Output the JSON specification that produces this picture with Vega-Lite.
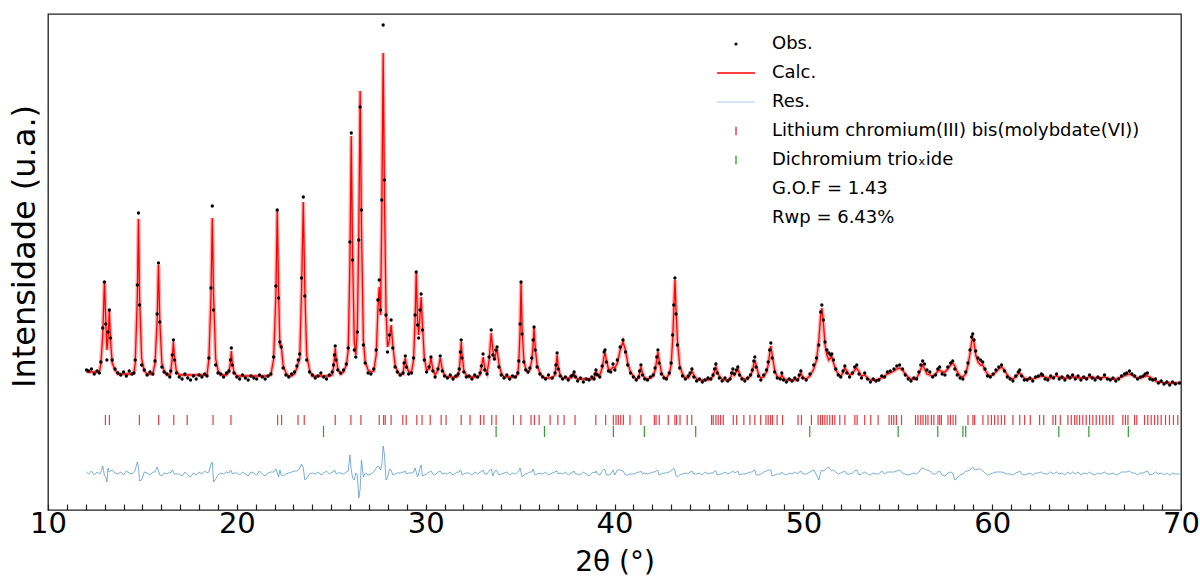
{
"$schema": "https://vega.github.io/schema/vega-lite/v6.json",
"width": 1133, "height": 496,
"autosize": "none",
"padding": {"left": 48, "top": 14, "right": 19, "bottom": 69},
"config": {"view": {"stroke": "#222", "strokeWidth": 1.3}, "font": "DejaVu Sans"},
"datasets": {
"p": [
{"x":12.04,"o":140,"c":138,"r":38},{"x":12.15,"o":139,"c":138,"r":36},{"x":12.3,"o":141,"c":138,"r":39},{"x":12.45,"o":136,"c":138,"r":35},{"x":12.6,"o":139,"c":138,"r":38},{"x":12.72,"o":137,"c":138,"r":36},{"x":12.8,"o":148,"c":146,"r":38},{"x":12.9,"o":182,"c":175,"r":44},{"x":12.99,"o":228,"c":229,"r":34},{"x":13.06,"o":186,"c":190,"r":33},{"x":13.12,"o":150,"c":160,"r":28},{"x":13.18,"o":178,"c":172,"r":42},{"x":13.25,"o":200,"c":199,"r":38},{"x":13.31,"o":172,"c":170,"r":39},{"x":13.4,"o":150,"c":147,"r":40},{"x":13.55,"o":141,"c":140,"r":37},{"x":13.7,"o":137,"c":136,"r":36},{"x":13.85,"o":135,"c":136,"r":38},{"x":14.0,"o":138,"c":136,"r":35},{"x":14.15,"o":134,"c":136,"r":39},{"x":14.3,"o":139,"c":136,"r":37},{"x":14.45,"o":136,"c":136,"r":36},{"x":14.55,"o":137,"c":137,"r":38},{"x":14.62,"o":150,"c":147,"r":40},{"x":14.73,"o":225,"c":213,"r":48},{"x":14.79,"o":297,"c":291,"r":43},{"x":14.85,"o":205,"c":213,"r":29},{"x":14.96,"o":145,"c":151,"r":30},{"x":15.1,"o":140,"c":139,"r":38},{"x":15.25,"o":135,"c":136,"r":37},{"x":15.4,"o":138,"c":136,"r":35},{"x":15.55,"o":136,"c":136,"r":38},{"x":15.67,"o":149,"c":147,"r":38},{"x":15.78,"o":196,"c":190,"r":43},{"x":15.85,"o":247,"c":245,"r":39},{"x":15.92,"o":188,"c":190,"r":35},{"x":16.03,"o":143,"c":147,"r":34},{"x":16.15,"o":138,"c":139,"r":37},{"x":16.3,"o":136,"c":135,"r":36},{"x":16.45,"o":133,"c":135,"r":38},{"x":16.5,"o":139,"c":138,"r":37},{"x":16.58,"o":155,"c":152,"r":40},{"x":16.64,"o":170,"c":168,"r":38},{"x":16.7,"o":150,"c":152,"r":36},{"x":16.8,"o":137,"c":139,"r":36},{"x":16.95,"o":133,"c":135,"r":36},{"x":17.1,"o":131,"c":135,"r":34},{"x":17.25,"o":136,"c":135,"r":38},{"x":17.4,"o":132,"c":135,"r":35},{"x":17.55,"o":130,"c":135,"r":33},{"x":17.7,"o":134,"c":135,"r":37},{"x":17.85,"o":131,"c":135,"r":35},{"x":18.0,"o":135,"c":135,"r":38},{"x":18.15,"o":133,"c":135,"r":36},{"x":18.3,"o":136,"c":135,"r":39},{"x":18.42,"o":134,"c":135,"r":37},{"x":18.52,"o":152,"c":151,"r":38},{"x":18.63,"o":222,"c":213,"r":46},{"x":18.7,"o":304,"c":292,"r":48},{"x":18.77,"o":200,"c":213,"r":28},{"x":18.88,"o":145,"c":151,"r":31},{"x":19.0,"o":137,"c":140,"r":35},{"x":19.15,"o":136,"c":135,"r":37},{"x":19.3,"o":133,"c":135,"r":36},{"x":19.45,"o":137,"c":135,"r":38},{"x":19.58,"o":139,"c":138,"r":37},{"x":19.66,"o":150,"c":147,"r":40},{"x":19.71,"o":162,"c":159,"r":39},{"x":19.76,"o":145,"c":147,"r":36},{"x":19.85,"o":137,"c":138,"r":37},
{"x":20.0,"o":133,"c":134,"r":37},{"x":20.15,"o":131,"c":134,"r":35},{"x":20.3,"o":135,"c":134,"r":38},{"x":20.45,"o":132,"c":134,"r":36},{"x":20.6,"o":130,"c":134,"r":34},{"x":20.75,"o":134,"c":134,"r":38},{"x":20.9,"o":132,"c":134,"r":37},{"x":21.05,"o":131,"c":134,"r":35},{"x":21.2,"o":135,"c":134,"r":39},{"x":21.35,"o":133,"c":134,"r":36},{"x":21.5,"o":131,"c":134,"r":34},{"x":21.65,"o":134,"c":134,"r":37},{"x":21.8,"o":136,"c":135,"r":38},{"x":21.95,"o":153,"c":151,"r":38},{"x":22.07,"o":224,"c":217,"r":41},{"x":22.14,"o":300,"c":300,"r":37},{"x":22.21,"o":212,"c":218,"r":33},{"x":22.28,"o":168,"c":165,"r":40},{"x":22.35,"o":163,"c":165,"r":35},{"x":22.45,"o":142,"c":145,"r":34},{"x":22.6,"o":135,"c":137,"r":36},{"x":22.75,"o":133,"c":134,"r":37},{"x":22.9,"o":136,"c":134,"r":38},{"x":23.05,"o":138,"c":136,"r":39},{"x":23.18,"o":144,"c":142,"r":39},{"x":23.25,"o":150,"c":147,"r":40},{"x":23.33,"o":156,"c":151,"r":42},{"x":23.43,"o":232,"c":221,"r":46},{"x":23.52,"o":313,"c":308,"r":42},{"x":23.6,"o":214,"c":221,"r":30},{"x":23.7,"o":150,"c":155,"r":32},{"x":23.85,"o":138,"c":140,"r":36},{"x":24.0,"o":135,"c":134,"r":37},{"x":24.15,"o":132,"c":134,"r":36},{"x":24.3,"o":134,"c":134,"r":38},{"x":24.45,"o":137,"c":134,"r":35},{"x":24.6,"o":133,"c":134,"r":37},{"x":24.75,"o":131,"c":134,"r":39},{"x":24.9,"o":135,"c":134,"r":36},{"x":25.05,"o":138,"c":135,"r":38},{"x":25.12,"o":145,"c":143,"r":38},{"x":25.17,"o":155,"c":152,"r":40},{"x":25.21,"o":164,"c":162,"r":39},{"x":25.26,"o":150,"c":152,"r":36},{"x":25.35,"o":140,"c":141,"r":37},{"x":25.5,"o":137,"c":136,"r":37},{"x":25.65,"o":140,"c":138,"r":36},{"x":25.8,"o":146,"c":145,"r":38},{"x":25.9,"o":162,"c":160,"r":39},{"x":25.99,"o":268,"c":250,"r":55},{"x":26.06,"o":377,"c":374,"r":40},{"x":26.13,"o":250,"c":255,"r":32},{"x":26.22,"o":160,"c":168,"r":30},{"x":26.3,"o":153,"c":155,"r":37},{"x":26.38,"o":178,"c":180,"r":35},{"x":26.46,"o":270,"c":280,"r":12},{"x":26.53,"o":403,"c":419,"r":21},{"x":26.6,"o":300,"c":285,"r":50},{"x":26.7,"o":165,"c":170,"r":33},{"x":26.8,"o":147,"c":148,"r":37},{"x":26.95,"o":137,"c":140,"r":35},{"x":27.1,"o":136,"c":138,"r":36},{"x":27.25,"o":141,"c":139,"r":38},{"x":27.38,"o":160,"c":155,"r":42},{"x":27.47,"o":210,"c":200,"r":44},{"x":27.54,"o":230,"c":223,"r":43},{"x":27.61,"o":200,"c":195,"r":40},{"x":27.68,"o":310,"c":300,"r":45},{"x":27.75,"o":485,"c":457,"r":64},{"x":27.82,"o":330,"c":310,"r":55},{"x":27.9,"o":195,"c":200,"r":30},{"x":27.98,"o":158,"c":163,"r":32},{"x":28.08,"o":175,"c":170,"r":41},{"x":28.17,"o":190,"c":185,"r":40},{"x":28.26,"o":162,"c":165,"r":35},{"x":28.38,"o":143,"c":145,"r":36},{"x":28.5,"o":138,"c":139,"r":37},{"x":28.65,"o":135,"c":135,"r":37},{"x":28.8,"o":137,"c":136,"r":38},{"x":28.86,"o":147,"c":145,"r":38},{"x":28.92,"o":154,"c":152,"r":39},{"x":28.98,"o":143,"c":145,"r":36},{"x":29.1,"o":136,"c":138,"r":37},{"x":29.25,"o":137,"c":138,"r":37},{"x":29.36,"o":152,"c":150,"r":38},{"x":29.44,"o":195,"c":190,"r":42},{"x":29.5,"o":238,"c":237,"r":38},{"x":29.57,"o":185,"c":190,"r":33},{"x":29.63,"o":172,"c":175,"r":36},{"x":29.7,"o":200,"c":195,"r":42},{"x":29.76,"o":216,"c":213,"r":45},{"x":29.83,"o":180,"c":185,"r":34},{"x":29.93,"o":150,"c":152,"r":35},
{"x":30.05,"o":138,"c":140,"r":36},{"x":30.18,"o":143,"c":141,"r":38},{"x":30.28,"o":153,"c":152,"r":39},{"x":30.38,"o":139,"c":141,"r":36},{"x":30.5,"o":133,"c":135,"r":35},{"x":30.65,"o":141,"c":140,"r":38},{"x":30.77,"o":154,"c":152,"r":39},{"x":30.88,"o":139,"c":141,"r":36},{"x":31.0,"o":134,"c":135,"r":37},{"x":31.15,"o":132,"c":133,"r":36},{"x":31.3,"o":135,"c":133,"r":38},{"x":31.45,"o":131,"c":133,"r":35},{"x":31.6,"o":134,"c":133,"r":37},{"x":31.72,"o":136,"c":134,"r":38},{"x":31.78,"o":141,"c":140,"r":38},{"x":31.84,"o":158,"c":155,"r":40},{"x":31.88,"o":170,"c":168,"r":39},{"x":31.93,"o":152,"c":155,"r":35},{"x":32.02,"o":138,"c":140,"r":36},{"x":32.15,"o":133,"c":135,"r":37},{"x":32.3,"o":134,"c":133,"r":37},{"x":32.45,"o":131,"c":133,"r":35},{"x":32.6,"o":135,"c":133,"r":38},{"x":32.75,"o":133,"c":133,"r":36},{"x":32.88,"o":137,"c":135,"r":38},{"x":32.95,"o":144,"c":142,"r":38},{"x":33.04,"o":156,"c":153,"r":40},{"x":33.13,"o":140,"c":142,"r":36},{"x":33.25,"o":136,"c":137,"r":36},{"x":33.36,"o":153,"c":150,"r":39},{"x":33.47,"o":180,"c":177,"r":41},{"x":33.56,"o":155,"c":160,"r":34},{"x":33.64,"o":151,"c":150,"r":38},{"x":33.72,"o":160,"c":157,"r":40},{"x":33.78,"o":163,"c":161,"r":39},{"x":33.88,"o":143,"c":146,"r":35},{"x":34.0,"o":135,"c":137,"r":36},{"x":34.15,"o":132,"c":133,"r":37},{"x":34.3,"o":135,"c":133,"r":38},{"x":34.45,"o":131,"c":133,"r":35},{"x":34.6,"o":134,"c":133,"r":37},{"x":34.75,"o":133,"c":133,"r":36},{"x":34.88,"o":137,"c":136,"r":38},{"x":34.93,"o":149,"c":147,"r":39},{"x":35.0,"o":186,"c":180,"r":42},{"x":35.05,"o":228,"c":227,"r":38},{"x":35.11,"o":176,"c":180,"r":33},{"x":35.2,"o":148,"c":150,"r":35},{"x":35.3,"o":140,"c":141,"r":36},{"x":35.42,"o":138,"c":138,"r":37},{"x":35.52,"o":142,"c":140,"r":38},{"x":35.62,"o":152,"c":150,"r":38},{"x":35.69,"o":170,"c":165,"r":41},{"x":35.74,"o":183,"c":182,"r":38},{"x":35.8,"o":160,"c":163,"r":35},{"x":35.9,"o":143,"c":145,"r":36},{"x":36.05,"o":136,"c":137,"r":37},{"x":36.2,"o":133,"c":133,"r":36},{"x":36.35,"o":131,"c":132,"r":38},{"x":36.5,"o":135,"c":132,"r":35},{"x":36.7,"o":132,"c":132,"r":37},{"x":36.85,"o":137,"c":135,"r":38},{"x":36.9,"o":145,"c":143,"r":39},{"x":36.96,"o":157,"c":155,"r":39},{"x":37.02,"o":141,"c":143,"r":36},{"x":37.12,"o":134,"c":135,"r":37},{"x":37.25,"o":131,"c":132,"r":36},{"x":37.4,"o":133,"c":132,"r":38},{"x":37.55,"o":130,"c":132,"r":35},{"x":37.7,"o":134,"c":132,"r":37},{"x":37.8,"o":135,"c":134,"r":38},{"x":37.86,"o":138,"c":136,"r":39},{"x":37.93,"o":133,"c":134,"r":36},{"x":38.05,"o":129,"c":131,"r":36},{"x":38.2,"o":132,"c":131,"r":35},{"x":38.35,"o":128,"c":131,"r":38},{"x":38.5,"o":131,"c":131,"r":36},{"x":38.65,"o":130,"c":131,"r":34},{"x":38.8,"o":133,"c":131,"r":37},{"x":38.92,"o":131,"c":132,"r":38},{"x":38.97,"o":136,"c":135,"r":37},{"x":39.02,"o":140,"c":138,"r":39},{"x":39.1,"o":135,"c":136,"r":36},{"x":39.22,"o":133,"c":135,"r":35},{"x":39.35,"o":144,"c":142,"r":39},{"x":39.45,"o":158,"c":154,"r":41},{"x":39.5,"o":160,"c":157,"r":40},{"x":39.57,"o":148,"c":150,"r":35},{"x":39.68,"o":139,"c":141,"r":35},{"x":39.8,"o":138,"c":140,"r":36},{"x":39.92,"o":146,"c":143,"r":40},
{"x":40.02,"o":140,"c":142,"r":35},{"x":40.15,"o":150,"c":147,"r":40},{"x":40.3,"o":163,"c":160,"r":40},{"x":40.45,"o":170,"c":168,"r":39},{"x":40.58,"o":158,"c":160,"r":35},{"x":40.7,"o":145,"c":147,"r":35},{"x":40.85,"o":137,"c":138,"r":36},{"x":41.0,"o":133,"c":134,"r":36},{"x":41.15,"o":130,"c":131,"r":37},{"x":41.28,"o":133,"c":132,"r":38},{"x":41.33,"o":139,"c":137,"r":38},{"x":41.4,"o":145,"c":143,"r":39},{"x":41.48,"o":135,"c":137,"r":36},{"x":41.6,"o":131,"c":132,"r":37},{"x":41.75,"o":130,"c":131,"r":36},{"x":41.9,"o":133,"c":132,"r":37},{"x":42.05,"o":135,"c":134,"r":38},{"x":42.15,"o":142,"c":140,"r":38},{"x":42.24,"o":153,"c":150,"r":40},{"x":42.3,"o":160,"c":158,"r":39},{"x":42.36,"o":147,"c":150,"r":35},{"x":42.48,"o":136,"c":138,"r":36},{"x":42.62,"o":132,"c":133,"r":37},{"x":42.75,"o":131,"c":132,"r":37},{"x":42.9,"o":137,"c":136,"r":38},{"x":43.0,"o":147,"c":145,"r":39},{"x":43.08,"o":175,"c":170,"r":41},{"x":43.14,"o":205,"c":200,"r":42},{"x":43.2,"o":232,"c":230,"r":39},{"x":43.26,"o":196,"c":200,"r":34},{"x":43.33,"o":165,"c":170,"r":33},{"x":43.45,"o":142,"c":145,"r":35},{"x":43.6,"o":134,"c":136,"r":36},{"x":43.75,"o":131,"c":132,"r":37},{"x":43.9,"o":134,"c":132,"r":36},{"x":44.0,"o":137,"c":135,"r":38},{"x":44.1,"o":141,"c":139,"r":39},{"x":44.2,"o":133,"c":135,"r":36},{"x":44.35,"o":129,"c":131,"r":36},{"x":44.5,"o":131,"c":130,"r":37},{"x":44.65,"o":128,"c":130,"r":35},{"x":44.8,"o":130,"c":130,"r":38},{"x":44.95,"o":132,"c":130,"r":36},{"x":45.1,"o":131,"c":131,"r":37},{"x":45.22,"o":135,"c":134,"r":37},{"x":45.3,"o":141,"c":139,"r":39},{"x":45.37,"o":146,"c":143,"r":39},{"x":45.44,"o":137,"c":139,"r":35},{"x":45.55,"o":132,"c":134,"r":36},{"x":45.7,"o":129,"c":131,"r":36},{"x":45.85,"o":132,"c":130,"r":38},{"x":46.0,"o":129,"c":130,"r":36},{"x":46.12,"o":131,"c":131,"r":37},{"x":46.2,"o":137,"c":135,"r":38},{"x":46.27,"o":141,"c":138,"r":39},{"x":46.35,"o":136,"c":135,"r":37},{"x":46.45,"o":140,"c":138,"r":38},{"x":46.53,"o":143,"c":141,"r":39},{"x":46.62,"o":135,"c":136,"r":35},{"x":46.75,"o":131,"c":132,"r":36},{"x":46.9,"o":129,"c":131,"r":36},{"x":47.05,"o":132,"c":131,"r":37},{"x":47.2,"o":135,"c":134,"r":38},{"x":47.3,"o":140,"c":139,"r":38},{"x":47.38,"o":149,"c":146,"r":40},{"x":47.43,"o":153,"c":150,"r":40},{"x":47.5,"o":143,"c":145,"r":35},{"x":47.62,"o":134,"c":136,"r":35},{"x":47.75,"o":130,"c":132,"r":36},{"x":47.9,"o":135,"c":133,"r":38},{"x":48.05,"o":140,"c":138,"r":39},{"x":48.14,"o":148,"c":145,"r":40},{"x":48.22,"o":160,"c":157,"r":40},{"x":48.28,"o":167,"c":164,"r":40},{"x":48.35,"o":152,"c":155,"r":34},{"x":48.48,"o":138,"c":140,"r":35},{"x":48.62,"o":132,"c":133,"r":36},{"x":48.78,"o":131,"c":132,"r":36},{"x":48.86,"o":137,"c":135,"r":38},{"x":48.95,"o":130,"c":132,"r":36},{"x":49.1,"o":128,"c":130,"r":35},{"x":49.25,"o":131,"c":130,"r":37},{"x":49.4,"o":129,"c":130,"r":36},{"x":49.55,"o":132,"c":130,"r":38},{"x":49.7,"o":130,"c":130,"r":36},{"x":49.78,"o":135,"c":133,"r":38},{"x":49.87,"o":139,"c":137,"r":39},{"x":49.97,"o":132,"c":133,"r":36},
{"x":50.15,"o":130,"c":131,"r":36},{"x":50.35,"o":136,"c":134,"r":38},{"x":50.55,"o":145,"c":141,"r":40},{"x":50.7,"o":152,"c":150,"r":35},{"x":50.82,"o":165,"c":170,"r":30},{"x":50.92,"o":198,"c":195,"r":38},{"x":50.98,"o":205,"c":202,"r":40},{"x":51.06,"o":190,"c":188,"r":39},{"x":51.15,"o":168,"c":165,"r":40},{"x":51.25,"o":160,"c":155,"r":42},{"x":51.35,"o":157,"c":150,"r":43},{"x":51.45,"o":155,"c":152,"r":40},{"x":51.51,"o":156,"c":153,"r":39},{"x":51.6,"o":150,"c":147,"r":40},{"x":51.72,"o":141,"c":140,"r":38},{"x":51.85,"o":135,"c":136,"r":36},{"x":51.98,"o":133,"c":134,"r":37},{"x":52.1,"o":139,"c":137,"r":38},{"x":52.2,"o":144,"c":142,"r":39},{"x":52.3,"o":137,"c":139,"r":36},{"x":52.45,"o":133,"c":135,"r":36},{"x":52.6,"o":137,"c":136,"r":37},{"x":52.72,"o":143,"c":140,"r":39},{"x":52.83,"o":145,"c":142,"r":40},{"x":52.95,"o":136,"c":138,"r":35},{"x":53.08,"o":132,"c":134,"r":36},{"x":53.25,"o":137,"c":135,"r":38},{"x":53.4,"o":131,"c":132,"r":36},{"x":53.55,"o":128,"c":130,"r":35},{"x":53.7,"o":131,"c":130,"r":37},{"x":53.85,"o":129,"c":130,"r":36},{"x":54.0,"o":130,"c":131,"r":36},{"x":54.15,"o":134,"c":132,"r":39},{"x":54.3,"o":133,"c":134,"r":36},{"x":54.45,"o":138,"c":136,"r":38},{"x":54.6,"o":139,"c":137,"r":38},{"x":54.8,"o":141,"c":139,"r":38},{"x":54.95,"o":144,"c":141,"r":39},{"x":55.1,"o":145,"c":142,"r":40},{"x":55.25,"o":141,"c":140,"r":37},{"x":55.4,"o":135,"c":136,"r":36},{"x":55.55,"o":131,"c":133,"r":35},{"x":55.7,"o":129,"c":131,"r":36},{"x":55.85,"o":132,"c":131,"r":37},{"x":56.0,"o":131,"c":132,"r":36},{"x":56.12,"o":138,"c":136,"r":38},{"x":56.22,"o":145,"c":141,"r":41},{"x":56.32,"o":149,"c":145,"r":42},{"x":56.42,"o":146,"c":141,"r":41},{"x":56.55,"o":140,"c":136,"r":40},{"x":56.7,"o":138,"c":135,"r":39},{"x":56.85,"o":133,"c":134,"r":36},{"x":57.0,"o":135,"c":136,"r":36},{"x":57.12,"o":141,"c":139,"r":38},{"x":57.22,"o":143,"c":140,"r":39},{"x":57.35,"o":136,"c":138,"r":35},{"x":57.5,"o":135,"c":138,"r":34},{"x":57.65,"o":143,"c":141,"r":37},{"x":57.8,"o":147,"c":145,"r":38},{"x":57.91,"o":149,"c":147,"r":37},{"x":58.02,"o":141,"c":144,"r":30},{"x":58.15,"o":135,"c":138,"r":32},{"x":58.3,"o":132,"c":134,"r":35},{"x":58.45,"o":131,"c":133,"r":36},{"x":58.6,"o":138,"c":136,"r":39},{"x":58.72,"o":147,"c":145,"r":39},{"x":58.83,"o":160,"c":157,"r":40},{"x":58.91,"o":173,"c":168,"r":42},{"x":58.97,"o":176,"c":172,"r":43},{"x":59.04,"o":170,"c":167,"r":41},{"x":59.13,"o":159,"c":155,"r":40},{"x":59.25,"o":152,"c":148,"r":41},{"x":59.38,"o":150,"c":145,"r":41},{"x":59.5,"o":148,"c":145,"r":39},{"x":59.62,"o":141,"c":140,"r":37},{"x":59.75,"o":134,"c":136,"r":35},{"x":59.9,"o":133,"c":134,"r":36},
{"x":60.05,"o":136,"c":135,"r":37},{"x":60.2,"o":140,"c":138,"r":38},{"x":60.35,"o":143,"c":141,"r":38},{"x":60.5,"o":145,"c":143,"r":38},{"x":60.65,"o":139,"c":140,"r":37},{"x":60.8,"o":133,"c":135,"r":36},{"x":60.95,"o":131,"c":132,"r":36},{"x":61.1,"o":129,"c":131,"r":35},{"x":61.25,"o":134,"c":133,"r":37},{"x":61.38,"o":138,"c":136,"r":38},{"x":61.46,"o":140,"c":137,"r":39},{"x":61.56,"o":134,"c":135,"r":36},{"x":61.7,"o":130,"c":132,"r":35},{"x":61.85,"o":130,"c":131,"r":36},{"x":62.0,"o":132,"c":131,"r":37},{"x":62.15,"o":129,"c":131,"r":35},{"x":62.3,"o":133,"c":132,"r":37},{"x":62.45,"o":134,"c":133,"r":37},{"x":62.6,"o":136,"c":134,"r":38},{"x":62.67,"o":135,"c":134,"r":37},{"x":62.8,"o":131,"c":133,"r":36},{"x":62.95,"o":130,"c":132,"r":36},{"x":63.1,"o":134,"c":132,"r":38},{"x":63.25,"o":132,"c":133,"r":36},{"x":63.41,"o":136,"c":134,"r":38},{"x":63.55,"o":131,"c":133,"r":36},{"x":63.7,"o":133,"c":132,"r":37},{"x":63.85,"o":130,"c":132,"r":35},{"x":64.0,"o":134,"c":132,"r":38},{"x":64.12,"o":132,"c":133,"r":36},{"x":64.26,"o":135,"c":133,"r":38},{"x":64.4,"o":131,"c":133,"r":36},{"x":64.55,"o":134,"c":132,"r":38},{"x":64.7,"o":130,"c":132,"r":35},{"x":64.85,"o":133,"c":132,"r":37},{"x":65.0,"o":131,"c":132,"r":36},{"x":65.16,"o":135,"c":133,"r":38},{"x":65.3,"o":132,"c":133,"r":36},{"x":65.45,"o":130,"c":132,"r":35},{"x":65.6,"o":133,"c":132,"r":37},{"x":65.75,"o":131,"c":132,"r":36},{"x":65.95,"o":135,"c":133,"r":38},{"x":66.1,"o":131,"c":132,"r":36},{"x":66.25,"o":130,"c":131,"r":36},{"x":66.4,"o":132,"c":131,"r":37},{"x":66.55,"o":129,"c":131,"r":35},{"x":66.7,"o":131,"c":132,"r":36},{"x":66.85,"o":134,"c":133,"r":38},{"x":67.0,"o":136,"c":134,"r":38},{"x":67.12,"o":137,"c":135,"r":38},{"x":67.27,"o":139,"c":136,"r":39},{"x":67.4,"o":136,"c":135,"r":37},{"x":67.55,"o":134,"c":133,"r":37},{"x":67.7,"o":131,"c":132,"r":35},{"x":67.85,"o":133,"c":132,"r":37},{"x":68.0,"o":134,"c":133,"r":37},{"x":68.1,"o":136,"c":134,"r":38},{"x":68.22,"o":137,"c":134,"r":39},{"x":68.35,"o":131,"c":133,"r":35},{"x":68.5,"o":130,"c":131,"r":36},{"x":68.65,"o":131,"c":129,"r":38},{"x":68.8,"o":127,"c":128,"r":36},{"x":68.95,"o":129,"c":128,"r":37},{"x":69.1,"o":126,"c":127,"r":35},{"x":69.25,"o":128,"c":127,"r":37},{"x":69.4,"o":125,"c":127,"r":35},{"x":69.55,"o":128,"c":127,"r":37},{"x":69.7,"o":126,"c":127,"r":36},{"x":69.92,"o":127,"c":127,"r":36}
],
"red": [{"t":13.04},{"t":13.25},{"t":14.84},{"t":15.86},{"t":16.66},{"t":17.37},{"t":18.74},{"t":19.69},{"t":22.16},{"t":22.37},{"t":23.24},{"t":23.57},{"t":25.21},{"t":26.04},{"t":26.57},{"t":27.54},{"t":27.77},{"t":27.86},{"t":28.17},{"t":28.79},{"t":28.97},{"t":29.53},{"t":29.81},{"t":30.24},{"t":30.82},{"t":31.08},{"t":31.88},{"t":32.35},{"t":32.9},{"t":33.08},{"t":33.5},{"t":33.73},{"t":34.65},{"t":35.04},{"t":35.58},{"t":35.76},{"t":36.01},{"t":36.59},{"t":37.0},{"t":37.33},{"t":37.91},{"t":39.01},{"t":39.53},{"t":39.94},{"t":40.08},{"t":40.2},{"t":40.33},{"t":40.47},{"t":40.82},{"t":41.4},{"t":42.11},{"t":42.2},{"t":42.37},{"t":42.85},{"t":43.2},{"t":43.29},{"t":43.47},{"t":43.85},{"t":44.09},{"t":45.14},{"t":45.23},{"t":45.37},{"t":45.49},{"t":45.62},{"t":45.76},{"t":46.29},{"t":46.47},{"t":46.85},{"t":47.17},{"t":47.43},{"t":47.74},{"t":48.02},{"t":48.14},{"t":48.27},{"t":48.37},{"t":48.61},{"t":48.9},{"t":49.72},{"t":49.9},{"t":50.43},{"t":50.78},{"t":50.91},{"t":51.02},{"t":51.14},{"t":51.26},{"t":51.4},{"t":51.54},{"t":51.67},{"t":51.93},{"t":52.2},{"t":52.73},{"t":52.85},{"t":53.25},{"t":53.57},{"t":53.96},{"t":54.54},{"t":54.67},{"t":54.79},{"t":54.93},{"t":55.2},{"t":55.94},{"t":56.07},{"t":56.22},{"t":56.34},{"t":56.48},{"t":56.6},{"t":56.78},{"t":56.91},{"t":57.13},{"t":57.22},{"t":57.31},{"t":57.66},{"t":57.79},{"t":57.93},{"t":58.07},{"t":58.72},{"t":58.98},{"t":59.07},{"t":59.51},{"t":59.78},{"t":59.96},{"t":60.13},{"t":60.31},{"t":60.49},{"t":60.66},{"t":61.1},{"t":61.46},{"t":61.72},{"t":62.02},{"t":62.51},{"t":62.73},{"t":63.22},{"t":63.36},{"t":63.61},{"t":64.01},{"t":64.19},{"t":64.37},{"t":64.49},{"t":64.63},{"t":64.8},{"t":64.98},{"t":65.16},{"t":65.33},{"t":65.51},{"t":65.69},{"t":65.86},{"t":66.04},{"t":66.22},{"t":66.39},{"t":66.92},{"t":67.06},{"t":67.19},{"t":67.54},{"t":67.66},{"t":68.07},{"t":68.24},{"t":68.42},{"t":68.6},{"t":68.77},{"t":68.95},{"t":69.18},{"t":69.39},{"t":69.6},{"t":69.83}],
"green": [{"t":24.59},{"t":33.73},{"t":36.29},{"t":39.94},{"t":41.58},{"t":44.3},{"t":50.34},{"t":55.02},{"t":57.12},{"t":58.45},{"t":58.6},{"t":63.53},{"t":65.12},{"t":67.21}],
"leg": [{"s":"Obs."},{"s":"Calc."},{"s":"Res."},{"s":"Lithium chromium(III) bis(molybdate(VI))"},{"s":"Dichromium trioₓide"},{"s":"G.O.F = 1.43"},{"s":"Rwp = 6.43%"}]
},
"encoding": {
  "x": {"type": "quantitative", "scale": {"domain": [10, 70], "nice": false, "zero": false},
    "axis": {"title": "2θ (°)", "values": [10,11,12,13,14,15,16,17,18,19,20,21,22,23,24,25,26,27,28,29,30,31,32,33,34,35,36,37,38,39,40,41,42,43,44,45,46,47,48,49,50,51,52,53,54,55,56,57,58,59,60,61,62,63,64,65,66,67,68,69,70],
      "labelExpr": "datum.value % 10 === 0 ? datum.label : ''",
      "tickSize": -6, "tickColor": "#222", "tickWidth": 1.2,
      "labelFontSize": 29, "labelColor": "#000", "labelFont": "DejaVu Sans", "labelPadding": 5, "labelFlush": false, "labelOverlap": false, "labelBound": false,
      "titleFontSize": 28, "titleFont": "DejaVu Sans", "titleFontWeight": "normal", "titleColor": "#000", "titlePadding": 10,
      "domain": false, "grid": false,
      "encode": {"ticks": {"update": {"y2": {"signal": "datum.value % 10 === 0 ? -12 : -6"}}}}}},
  "y": {"type": "quantitative", "scale": {"domain": [0, 496], "nice": false, "zero": false},
    "axis": {"title": "Intensidade (u.a.)", "labels": false, "ticks": false, "domain": false, "grid": false,
      "titleFontSize": 32, "titleFont": "DejaVu Sans", "titleFontWeight": "normal", "titleColor": "#000", "titlePadding": 7, "titleY": 232}}
},
"layer": [
  {"data": {"name": "p"}, "mark": {"type": "line", "stroke": "#4a90c8", "strokeWidth": 0.9, "opacity": 0.8},
   "encoding": {"x": {"field": "x"}, "y": {"field": "r"}}},
  {"data": {"name": "red"}, "mark": {"type": "rule", "stroke": "#e3262e", "strokeWidth": 1.2, "opacity": 0.9},
   "encoding": {"x": {"field": "t"}, "y": {"datum": 85}, "y2": {"datum": 95}}},
  {"data": {"name": "green"}, "mark": {"type": "rule", "stroke": "#2ca02c", "strokeWidth": 1.2},
   "encoding": {"x": {"field": "t"}, "y": {"datum": 73}, "y2": {"datum": 84}}},
  {"data": {"name": "p"}, "mark": {"type": "line", "stroke": "#ff0000", "strokeWidth": 4, "opacity": 0.3},
   "encoding": {"x": {"field": "x"}, "y": {"field": "c"}}},
  {"data": {"name": "p"}, "mark": {"type": "line", "stroke": "#ff0000", "strokeWidth": 1.3},
   "encoding": {"x": {"field": "x"}, "y": {"field": "c"}}},
  {"data": {"name": "p"}, "mark": {"type": "point", "filled": true, "fill": "#000", "size": 11, "opacity": 1, "strokeWidth": 0},
   "encoding": {"x": {"field": "x"}, "y": {"field": "o"}}},
  {"data": {"name": "leg"}, "mark": {"type": "point", "filled": false, "opacity": 0},
   "encoding": {
     "x": {"datum": 40}, "y": {"datum": 200},
     "color": {"field": "s", "type": "nominal",
       "scale": {"domain": ["Obs.","Calc.","Res.","Lithium chromium(III) bis(molybdate(VI))","Dichromium trioₓide","G.O.F = 1.43","Rwp = 6.43%"],
                 "range": ["#000000","#ff0000","#c6dcef","#e3262e","#2ca02c","#ffffff","#ffffff"]},
       "legend": {"orient": "none", "legendX": 668, "legendY": 10, "title": null, "labelFontSize": 18, "labelFont": "DejaVu Sans", "labelColor": "#000",
                  "symbolSize": 1444, "symbolStrokeWidth": 1.3, "symbolOpacity": 1, "labelOffset": 16, "rowPadding": 0, "labelLimit": 600}},
     "shape": {"field": "s", "type": "nominal",
       "scale": {"domain": ["Obs.","Calc.","Res.","Lithium chromium(III) bis(molybdate(VI))","Dichromium trioₓide","G.O.F = 1.43","Rwp = 6.43%"],
                 "range": ["M-0.05,0A0.05,0.05,0,1,1,0.05,0A0.05,0.05,0,1,1,-0.05,0","M-1,0L1,0","M-1,0L1,0","M0,-0.23L0,0.23","M0,-0.23L0,0.23","M0,0L0.01,0","M0,0L0.01,0"]}}
   }}
]
}
